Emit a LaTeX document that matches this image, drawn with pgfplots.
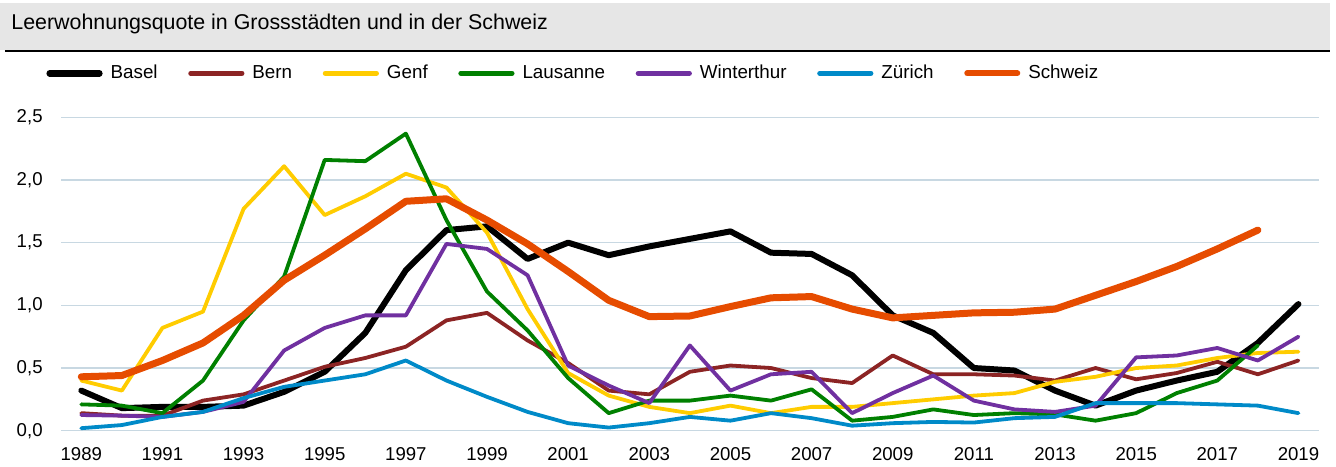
\documentclass[border=0pt]{standalone}
\usepackage{fontspec}
\setmainfont{Liberation Sans}
\usepackage{pgfplots}
\usepackage{pgfplotstable}
\pgfplotsset{compat=1.18}
\definecolor{cBern}{RGB}{140,36,36}
\definecolor{cGenf}{RGB}{255,204,0}
\definecolor{cLaus}{RGB}{0,128,0}
\definecolor{cWint}{RGB}{112,48,160}
\definecolor{cZuer}{RGB}{0,138,200}
\definecolor{cCH}{RGB}{230,76,0}
\definecolor{gridc}{RGB}{200,216,226}
\definecolor{barc}{RGB}{230,230,230}
\pgfplotstableread{
year basel bern genf lausanne winterthur zuerich schweiz
1989 0.32 0.14 0.40 0.21 0.125 0.02 0.43
1990 0.18 0.12 0.32 0.20 0.12 0.045 0.44
1991 0.19 0.12 0.82 0.14 0.11 0.11 0.56
1992 0.19 0.24 0.95 0.40 0.15 0.15 0.70
1993 0.20 0.29 1.77 0.88 0.23 0.26 0.92
1994 0.31 0.40 2.11 1.23 0.64 0.35 1.20
1995 0.47 0.51 1.72 2.16 0.82 0.40 1.40
1996 0.78 0.58 1.87 2.15 0.92 0.45 1.61
1997 1.28 0.67 2.05 2.37 0.92 0.56 1.83
1998 1.60 0.88 1.94 1.68 1.49 0.40 1.85
1999 1.63 0.94 1.58 1.11 1.45 0.27 1.68
2000 1.37 0.72 0.97 0.80 1.24 0.15 1.49
2001 1.50 0.54 0.46 0.42 0.52 0.06 1.27
2002 1.40 0.32 0.28 0.14 0.36 0.025 1.04
2003 1.47 0.29 0.19 0.24 0.22 0.06 0.91
2004 1.53 0.47 0.14 0.24 0.68 0.11 0.915
2005 1.59 0.52 0.20 0.28 0.32 0.08 0.99
2006 1.42 0.50 0.14 0.24 0.45 0.14 1.06
2007 1.41 0.42 0.19 0.33 0.47 0.10 1.07
2008 1.24 0.38 0.19 0.08 0.14 0.04 0.97
2009 0.92 0.60 0.22 0.11 0.30 0.06 0.90
2010 0.78 0.45 0.25 0.17 0.44 0.07 0.92
2011 0.50 0.45 0.28 0.125 0.24 0.065 0.94
2012 0.48 0.44 0.30 0.14 0.17 0.10 0.945
2013 0.32 0.40 0.39 0.13 0.15 0.11 0.97
2014 0.20 0.50 0.43 0.08 0.20 0.22 1.08
2015 0.32 0.41 0.50 0.14 0.585 0.22 1.19
2016 0.40 0.46 0.52 0.30 0.60 0.22 1.31
2017 0.47 0.55 0.58 0.40 0.66 0.21 1.45
2018 0.70 0.45 0.62 0.68 0.56 0.20 1.60
2019 1.01 0.56 0.63 nan 0.75 0.14 nan
}\data

\begin{document}
\begin{tikzpicture}
\path (-30.5pt,-17.65pt) rectangle (637.5pt,215.35pt);
\fill[barc] (-30.5pt,190.35pt) rectangle (634.5pt,213.85pt);
\draw[line width=0.8pt] (-28pt,189.85pt) -- (634.5pt,189.85pt);
\node[anchor=base west, inner sep=0pt, font=\fontsize{10.7}{12}\selectfont] at (-25pt,200.35pt) {Leerwohnungsquote in Grossstädten und in der Schweiz};
\begin{axis}[
  at={(0pt,0pt)}, anchor=south west,
  width=628.85pt, height=156.7pt, scale only axis,
  xmin=1988.5, xmax=2019.5, ymin=0, ymax=2.5,
  xtick={1989,1991,...,2019}, ytick={0,0.5,1,1.5,2,2.5},
  major tick length=0pt,
  axis line style={draw=none},
  ymajorgrids, grid style={color=gridc, line width=0.75pt},
  /pgf/number format/assume math mode=true,
  xticklabel style={/pgf/number format/1000 sep={}, font=\fontsize{9.3}{11}\selectfont, anchor=north, inner sep=0pt, yshift=-8pt},
  yticklabel style={/pgf/number format/.cd, fixed, fixed zerofill, precision=1, use comma, /tikz/.cd, font=\fontsize{9.3}{11}\selectfont, anchor=east, inner sep=0pt, xshift=-9pt},
  clip=false,
  legend columns=7,
  legend style={at={(-0.0119,1.1405)}, anchor=west, draw=none, fill=none, inner sep=0pt,
    font=\fontsize{9.4}{11}\selectfont,
    /tikz/every odd column/.append style={column sep=2pt},
    /tikz/every even column/.append style={column sep=13.3pt}},
  every axis plot/.append style={line join=round, line cap=round},
]
\addplot[black, line width=3pt, legend image code/.code={\draw[black, line width=3.3pt, line cap=round] (1.6pt,0pt) -- (26.4pt,0pt);}] table[x=year,y=basel]{\data};
\addlegendentry{Basel}
\addplot[cBern, line width=1.9pt, legend image code/.code={\draw[cBern, line width=2.5pt, line cap=round] (1.2pt,0pt) -- (26.8pt,0pt);}] table[x=year,y=bern]{\data};
\addlegendentry{Bern}
\addplot[cGenf, line width=1.9pt, legend image code/.code={\draw[cGenf, line width=2.5pt, line cap=round] (1.2pt,0pt) -- (26.8pt,0pt);}] table[x=year,y=genf]{\data};
\addlegendentry{Genf}
\addplot[cLaus, line width=1.9pt, legend image code/.code={\draw[cLaus, line width=2.5pt, line cap=round] (1.2pt,0pt) -- (26.8pt,0pt);}] table[x=year,y=lausanne]{\data};
\addlegendentry{Lausanne}
\addplot[cWint, line width=1.9pt, legend image code/.code={\draw[cWint, line width=2.5pt, line cap=round] (1.2pt,0pt) -- (26.8pt,0pt);}] table[x=year,y=winterthur]{\data};
\addlegendentry{Winterthur}
\addplot[cZuer, line width=1.9pt, legend image code/.code={\draw[cZuer, line width=2.5pt, line cap=round] (1.2pt,0pt) -- (26.8pt,0pt);}] table[x=year,y=zuerich]{\data};
\addlegendentry{Zürich}
\addplot[cCH, line width=3.5pt, legend image code/.code={\draw[cCH, line width=3pt, line cap=round] (1.5pt,0pt) -- (26.5pt,0pt);}] table[x=year,y=schweiz]{\data};
\addlegendentry{Schweiz}
\end{axis}
\end{tikzpicture}
\end{document}
